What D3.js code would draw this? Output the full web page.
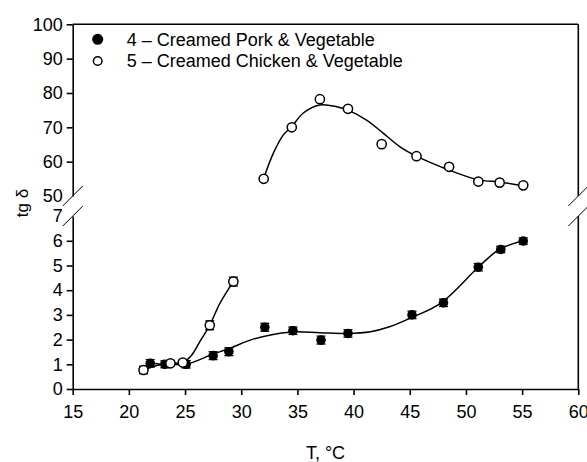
<!DOCTYPE html>
<html>
<head>
<meta charset="utf-8">
<script src="https://cdn.jsdelivr.net/npm/d3@7"></script>
<style>
	body { margin: 0; background: #fff; }
	svg { font-family: "Liberation Sans", Arial, sans-serif; }
	.axis path, .axis line { stroke: #000; stroke-width: 1.6; }
	.axis text { font-size: 18px; fill: #000; }
</style>
</head>
<body>
<div id="chart"></div>
<script>

// series 4 - creamed pork & vegetable (filled, with error bars)
var tempPork = [21.9, 23.2, 25.1, 27.5, 28.9, 32.1, 34.6, 37.1, 39.5, 45.2, 48.0, 51.1, 53.1, 55.1];
var tgPork = [1.04, 1.0, 1.0, 1.35, 1.51, 2.50, 2.36, 1.98, 2.25, 3.0, 3.49, 4.93, 5.65, 5.99];
var errPork = [0.15, 0.14, 0.15, 0.16, 0.16, 0.16, 0.15, 0.16, 0.15, 0.15, 0.15, 0.15, 0.13, 0.13];

// series 5 - creamed chicken & vegetable (open), below and above the break
var tempChickenLow = [21.3, 23.7, 24.8, 27.2, 29.3];
var tgChickenLow = [0.77, 1.04, 1.07, 2.58, 4.35];
var errChickenLow = [0.15, 0.1, 0.1, 0.18, 0.18];
var tempChickenHigh = [32.0, 34.5, 37.0, 39.5, 42.5, 45.6, 48.5, 51.1, 53.0, 55.1];
var tgChickenHigh = [55.0, 70.0, 78.2, 75.4, 65.1, 61.6, 58.5, 54.2, 53.9, 53.1];

// fitted curves
var fitPorkT = [21.9, 23.2, 24.2, 25.1, 26.2, 27.3, 29.0, 30.8, 32.5, 34.5, 37.0, 39.4, 41.5, 43.2, 45.2, 47.8, 51.1, 53.0, 55.1];
var fitPork = [1.04, 1.0, 0.99, 1.0, 1.17, 1.38, 1.65, 1.98, 2.18, 2.31, 2.28, 2.25, 2.32, 2.52, 2.9, 3.49, 4.93, 5.66, 6.0];
var fitChickenLowT = [21.3, 22.5, 23.7, 24.8, 25.6, 26.3, 27.2, 28.1, 29.3];
var fitChickenLow = [0.77, 0.95, 1.04, 1.07, 1.38, 1.91, 2.59, 3.47, 4.35];
var fitChickenHighT = [32.0, 32.85, 33.75, 34.5, 35.5, 37.0, 38.5, 39.5, 41.15, 42.6, 44.1, 45.6, 48.3, 51.1, 53.0, 55.1];
var fitChickenHigh = [55.1, 62.4, 67.8, 70.2, 74.1, 76.5, 76.0, 75.0, 72.1, 68.4, 64.4, 61.6, 57.8, 54.7, 54.1, 53.0];

// ticks
var xTicks = [15, 20, 25, 30, 35, 40, 45, 50, 55, 60];
var lowTicks = [0, 1, 2, 3, 4, 5, 6, 7];
var highTicks = [50, 60, 70, 80, 90, 100];
var legendLabels = ['4 \u2013 Creamed Pork & Vegetable', '5 \u2013 Creamed Chicken & Vegetable'];

var w = 587, h = 462;

var x = d3.scaleLinear().domain([15, 60]).range([72.7, 578.3]);
var yLow = d3.scaleLinear().domain([0, 7]).range([389, 216.1]);
var yHigh = d3.scaleLinear().domain([50, 100]).range([196, 24.3]);

var svg = d3.select('#chart')
	.append('svg')
	.attr('width', w)
	.attr('height', h);

// axes
svg.append('g')
	.attr('class', 'axis')
	.attr('transform', 'translate(0,' + yLow(0) + ')')
	.call(d3.axisBottom(x).tickValues(xTicks).tickFormat(d3.format('d')).tickSize(6).tickSizeOuter(0).tickPadding(10));

var lowAxis = svg.append('g')
	.attr('class', 'axis')
	.attr('transform', 'translate(' + x(15) + ',0)')
	.call(d3.axisLeft(yLow).tickValues(lowTicks).tickFormat(d3.format('d')).tickSize(6).tickSizeOuter(0).tickPadding(4));
lowAxis.selectAll('.tick').filter(function(d){ return d == 7; }).select('line').remove();

var highAxis = svg.append('g')
	.attr('class', 'axis')
	.attr('transform', 'translate(' + x(15) + ',0)')
	.call(d3.axisLeft(yHigh).tickValues(highTicks).tickFormat(d3.format('d')).tickSize(6).tickSizeOuter(0).tickPadding(4));
highAxis.selectAll('.tick').filter(function(d){ return d == 50; }).select('line').remove();

svg.selectAll('.axis .domain').attr('fill', 'none');

// frame: right and top
var frame = svg.append('g').attr('stroke', '#000').attr('stroke-width', 1.6);
frame.append('line')
	.attr('x1', x(60)).attr('x2', x(60))
	.attr('y1', yLow(0)).attr('y2', yLow(7));
frame.append('line')
	.attr('x1', x(60)).attr('x2', x(60))
	.attr('y1', yHigh(50)).attr('y2', yHigh(100));
frame.append('line')
	.attr('x1', x(15)).attr('x2', x(60))
	.attr('y1', yHigh(100)).attr('y2', yHigh(100));

// break marks
var breaks = [[15, yHigh(50)], [15, yLow(7)], [60, yHigh(50)], [60, yLow(7)]];
svg.selectAll('line.brk')
	.data(breaks)
	.enter()
	.append('line')
	.attr('class', 'brk')
	.attr('stroke', '#000')
	.attr('stroke-width', 1)
	.attr('x1', function(d){ return x(d[0]) - 10; })
	.attr('y1', function(d){ return d[1] + 10; })
	.attr('x2', function(d){ return x(d[0]) + 10; })
	.attr('y2', function(d){ return d[1] - 10; });

// curves
var zip = function(a, b){ return a.map(function(v, i){ return [v, b[i]]; }); };

var lineLow = d3.line()
	.x(function(d){ return x(d[0]); })
	.y(function(d){ return yLow(d[1]); })
	.curve(d3.curveCatmullRom.alpha(0.5));
var lineHigh = d3.line()
	.x(function(d){ return x(d[0]); })
	.y(function(d){ return yHigh(d[1]); })
	.curve(d3.curveCatmullRom.alpha(0.5));

svg.append('path').datum(zip(fitPorkT, fitPork))
	.attr('d', lineLow).attr('fill', 'none').attr('stroke', '#000').attr('stroke-width', 1.5);
svg.append('path').datum(zip(fitChickenLowT, fitChickenLow))
	.attr('d', lineLow).attr('fill', 'none').attr('stroke', '#000').attr('stroke-width', 1.5);
svg.append('path').datum(zip(fitChickenHighT, fitChickenHigh))
	.attr('d', lineHigh).attr('fill', 'none').attr('stroke', '#000').attr('stroke-width', 1.5);

// error bars
function errorBars(cls, ts, vs, es){
	var g = svg.append('g').attr('stroke', '#000').attr('stroke-width', 1.3);
	var data = ts.map(function(t, i){ return {t: t, v: vs[i], e: es[i]}; });
	g.selectAll('line.' + cls + 'v').data(data).enter().append('line')
		.attr('x1', function(d){ return x(d.t); }).attr('x2', function(d){ return x(d.t); })
		.attr('y1', function(d){ return yLow(d.v - d.e); }).attr('y2', function(d){ return yLow(d.v + d.e); });
	[-1, 1].forEach(function(s){
		g.selectAll('line.' + cls + 'c' + s).data(data).enter().append('line')
			.attr('x1', function(d){ return x(d.t) - 4.5; }).attr('x2', function(d){ return x(d.t) + 4.5; })
			.attr('y1', function(d){ return yLow(d.v + s * d.e); }).attr('y2', function(d){ return yLow(d.v + s * d.e); });
	});
}
errorBars('p', tempPork, tgPork, errPork);
errorBars('c', tempChickenLow, tgChickenLow, errChickenLow);

// markers
svg.selectAll('circle.pork')
	.data(zip(tempPork, tgPork))
	.enter()
	.append('circle')
	.attr('class', 'pork')
	.attr('cx', function(d){ return x(d[0]); })
	.attr('cy', function(d){ return yLow(d[1]); })
	.attr('r', 4.8)
	.attr('fill', '#000');

svg.selectAll('circle.chickenLow')
	.data(zip(tempChickenLow, tgChickenLow))
	.enter()
	.append('circle')
	.attr('class', 'chickenLow')
	.attr('cx', function(d){ return x(d[0]); })
	.attr('cy', function(d){ return yLow(d[1]); })
	.attr('r', 4.6)
	.attr('fill', '#fff').attr('stroke', '#000').attr('stroke-width', 1.5);

svg.selectAll('circle.chickenHigh')
	.data(zip(tempChickenHigh, tgChickenHigh))
	.enter()
	.append('circle')
	.attr('class', 'chickenHigh')
	.attr('cx', function(d){ return x(d[0]); })
	.attr('cy', function(d){ return yHigh(d[1]); })
	.attr('r', 4.6)
	.attr('fill', '#fff').attr('stroke', '#000').attr('stroke-width', 1.5);

// legend
var legend = svg.selectAll('g.legend')
	.data(legendLabels)
	.enter()
	.append('g')
	.attr('class', 'legend')
	.attr('transform', function(d, i){ return 'translate(97.7,' + (39.3 + i * 21.7) + ')'; });
legend.append('circle')
	.attr('r', function(d, i){ return i == 0 ? 4.8 : 4.3; })
	.attr('fill', function(d, i){ return i == 0 ? '#000' : '#fff'; })
	.attr('stroke', '#000').attr('stroke-width', 1.5);
legend.append('text')
	.attr('x', 29)
	.attr('dy', '0.36em')
	.attr('font-size', 18)
	.text(function(d){ return d; });

// axis titles
svg.append('text')
	.attr('transform', 'translate(28,203) rotate(-90)')
	.attr('text-anchor', 'middle')
	.attr('font-size', 17)
	.text('tg \u03b4');

svg.append('text')
	.attr('x', (x(15) + x(60)) / 2)
	.attr('y', 459)
	.attr('text-anchor', 'middle')
	.attr('font-size', 18)
	.text('T, \u00b0C');

</script>
</body>
</html>
